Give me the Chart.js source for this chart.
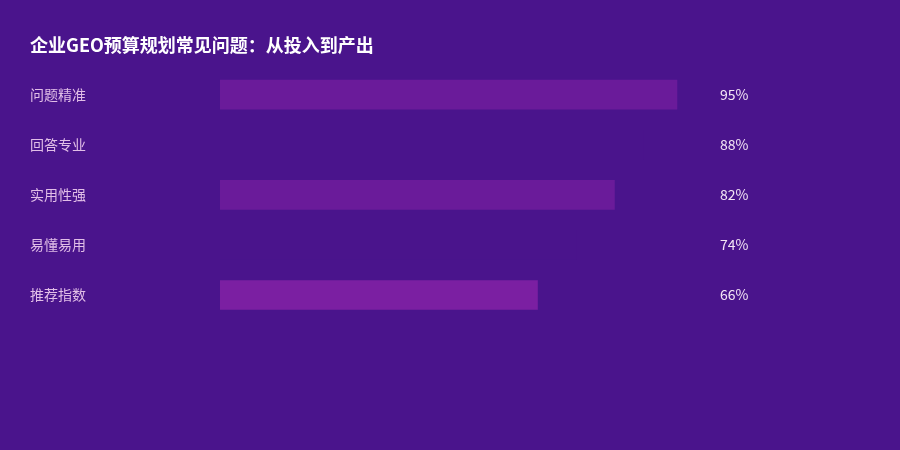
<!DOCTYPE html>
<html>
<head>
<meta charset="utf-8">
<script src="https://cdn.jsdelivr.net/npm/chart.js@4.4.1/dist/chart.umd.min.js"></script>
<style>
  html, body { margin: 0; padding: 0; background: #4A148C; }
  #wrap { width: 900px; height: 450px; position: relative; }
</style>
</head>
<body>
<div id="wrap"><canvas id="chart"></canvas></div>
<script>
/* ── DATA ─────────────────────────────────────────────────── */
const categories = ['问题精准', '回答专业', '实用性强', '易懂易用', '推荐指数'];
const scores = [95, 88, 82, 74, 66];
const barColors = ['#6A1B9A', '#4A148C', '#6A1B9A', '#4A148C', '#7B1FA2'];
const titleText = '企业GEO预算规划常见问题：从投入到产出';

const FONT = '"Noto Sans CJK SC", "Noto Sans", sans-serif';

/* ── VALUE LABELS (right of plot area) ───────────────────── */
const valueLabels = {
  id: 'valueLabels',
  afterDatasetsDraw(chart) {
    const { ctx, chartArea } = chart;
    const meta = chart.getDatasetMeta(0);
    ctx.save();
    ctx.font = '14px ' + FONT;
    ctx.fillStyle = '#F3E5F5';
    ctx.textAlign = 'left';
    ctx.textBaseline = 'middle';
    meta.data.forEach((bar, i) => {
      ctx.fillText(scores[i] + '%', chartArea.right + 19, bar.y);
    });
    ctx.restore();
  }
};

new Chart(document.getElementById('chart'), {
  type: 'bar',
  data: {
    labels: categories,
    datasets: [{
      data: scores,
      backgroundColor: barColors,
      borderWidth: 0,
      barThickness: 29
    }]
  },
  options: {
    indexAxis: 'y',
    responsive: true,
    maintainAspectRatio: false,
    animation: false,
    layout: { padding: { left: 30, right: 199, top: 34, bottom: 130 } },
    plugins: {
      legend: { display: false },
      tooltip: { enabled: false },
      title: {
        display: true,
        text: titleText,
        align: 'start',
        color: '#FFFFFF',
        font: { family: FONT, size: 18, weight: 'bold' },
        padding: { top: 0, bottom: 14 }
      }
    },
    scales: {
      x: { display: false, min: 0, max: 100 },
      y: {
        grid: { display: false },
        border: { display: false },
        afterFit: scale => { scale.width = 190; },
        ticks: {
          crossAlign: 'far',
          padding: 0,
          color: '#E1BEE7',
          font: { family: FONT, size: 14 }
        }
      }
    }
  },
  plugins: [valueLabels]
});
</script>
</body>
</html>
